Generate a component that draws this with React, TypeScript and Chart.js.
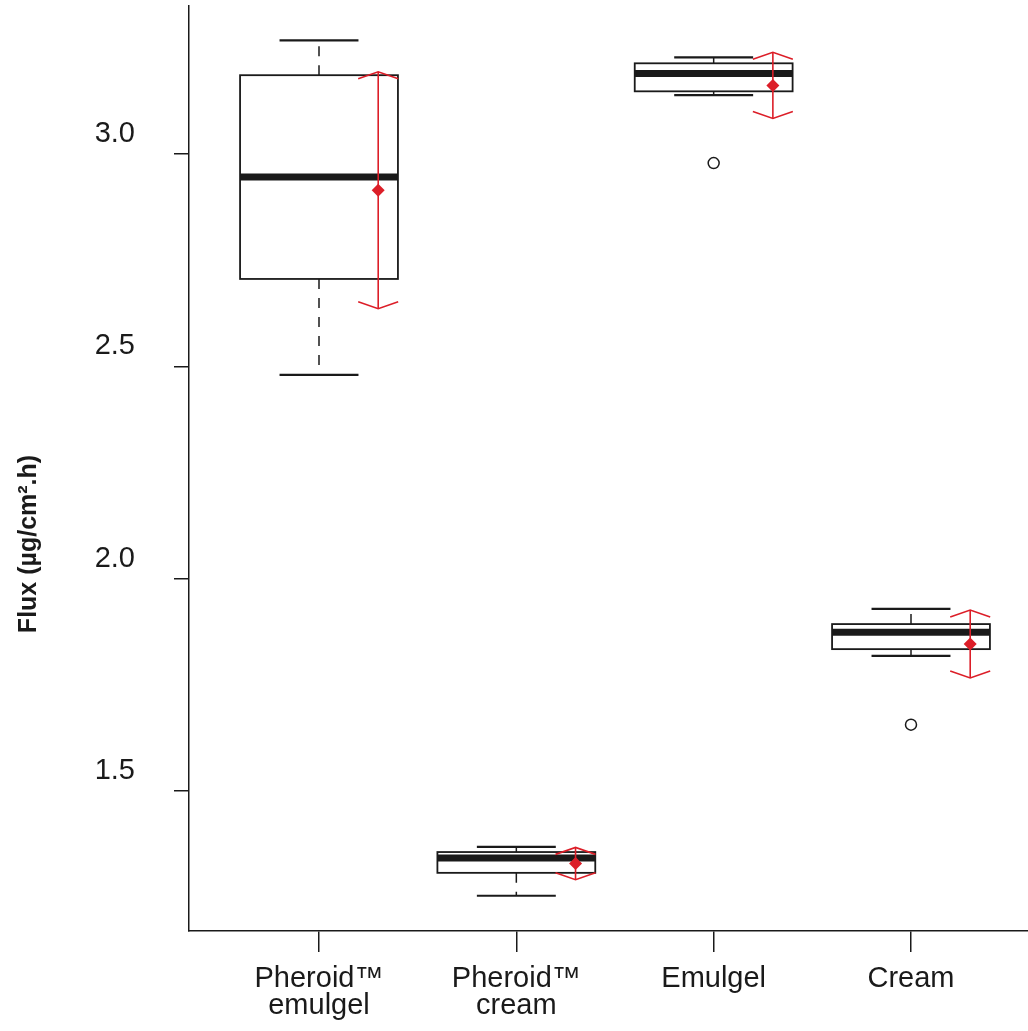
import React, { useEffect, useRef } from "react";
import { Chart, registerables } from "chart.js";

Chart.register(...registerables);

// ---- data ----
const categories: string[][] = [
  ["Pheroid™", "emulgel"],
  ["Pheroid™", "cream"],
  ["Emulgel"],
  ["Cream"],
];
const whiskerLow = [2.48, 1.253, 3.139, 1.818];
const q1 = [2.706, 1.307, 3.148, 1.834];
const median = [2.946, 1.342, 3.19, 1.874];
const q3 = [3.186, 1.356, 3.214, 1.893];
const whiskerHigh = [3.268, 1.368, 3.228, 1.929];
const means = [2.915, 1.329, 3.162, 1.846];
const sds = [0.279, 0.038, 0.078, 0.08];
const outlierGroups = [3, 4];
const outlierValues = [2.979, 1.656];
const yTicks = [1.5, 2.0, 2.5, 3.0];
const yTitle = "Flux (µg/cm².h)";

// ---- style constants ----
const INK = "#1a1a1a";
const RED = "#dc1e28";
const FONT = '"Liberation Sans", Arial, Helvetica, sans-serif';
const BOX_HALF = 0.4;
const CAP_HALF = 0.2;
const MEAN_OFFSET = 0.3;

const boxPlugin = {
  id: "boxplotDraw",
  beforeDatasetsDraw(chart: any) {
    const { ctx } = chart;
    const xs = chart.scales.x;
    const ys = chart.scales.y;
    const px = (v: number) => xs.getPixelForValue(v);
    const py = (v: number) => ys.getPixelForValue(v);
    const seg = (x1: number, y1: number, x2: number, y2: number) => {
      ctx.beginPath();
      ctx.moveTo(x1, y1);
      ctx.lineTo(x2, y2);
      ctx.stroke();
    };
    ctx.save();
    ctx.strokeStyle = INK;
    ctx.lineCap = "butt";
    for (let i = 0; i < categories.length; i++) {
      const c = i + 1;
      const xc = px(c);
      const xl = px(c - BOX_HALF);
      const xr = px(c + BOX_HALF);
      const cl = px(c - CAP_HALF);
      const cr = px(c + CAP_HALF);
      ctx.lineWidth = 1.5;
      ctx.setLineDash([10, 9]);
      seg(xc, py(q3[i]), xc, py(whiskerHigh[i]));
      seg(xc, py(q1[i]), xc, py(whiskerLow[i]));
      ctx.setLineDash([]);
      ctx.lineWidth = 2.2;
      seg(cl, py(whiskerHigh[i]), cr, py(whiskerHigh[i]));
      seg(cl, py(whiskerLow[i]), cr, py(whiskerLow[i]));
      ctx.lineWidth = 1.8;
      ctx.strokeRect(xl, py(q3[i]), xr - xl, py(q1[i]) - py(q3[i]));
      ctx.lineWidth = 7;
      seg(xl, py(median[i]), xr, py(median[i]));
    }
    ctx.strokeStyle = RED;
    ctx.lineWidth = 1.6;
    for (let i = 0; i < categories.length; i++) {
      const xm = px(i + 1 + MEAN_OFFSET);
      const top = py(means[i] + sds[i]);
      const bot = py(means[i] - sds[i]);
      seg(xm, top, xm, bot);
      ctx.beginPath();
      ctx.moveTo(xm - 20, top + 7);
      ctx.lineTo(xm, top);
      ctx.lineTo(xm + 20, top + 7);
      ctx.stroke();
      ctx.beginPath();
      ctx.moveTo(xm - 20, bot - 7);
      ctx.lineTo(xm, bot);
      ctx.lineTo(xm + 20, bot - 7);
      ctx.stroke();
    }
    ctx.restore();
  },
  afterDraw(chart: any) {
    const { ctx } = chart;
    ctx.save();
    ctx.translate(29, 544);
    ctx.rotate(-Math.PI / 2);
    ctx.font = `bold 25px ${FONT}`;
    ctx.fillStyle = INK;
    ctx.textAlign = "center";
    ctx.textBaseline = "middle";
    ctx.fillText(yTitle, 0, 0);
    ctx.restore();
  },
};

export default function App() {
  const ref = useRef<HTMLCanvasElement>(null);
  useEffect(() => {
    document.body.style.margin = "0";
    const chart = new Chart(ref.current as HTMLCanvasElement, {
      type: "scatter",
      data: {
        datasets: [
          {
            label: "mean",
            data: means.map((m, i) => ({ x: i + 1 + MEAN_OFFSET, y: m })),
            pointStyle: "rectRot",
            pointRadius: 6.5,
            backgroundColor: RED,
            borderColor: RED,
            borderWidth: 0,
          },
          {
            label: "outliers",
            data: outlierValues.map((v, i) => ({ x: outlierGroups[i], y: v })),
            pointStyle: "circle",
            pointRadius: 5.5,
            backgroundColor: "rgba(0,0,0,0)",
            borderColor: INK,
            borderWidth: 1.5,
          },
        ],
      },
      options: {
        animation: false,
        responsive: false,
        layout: { autoPadding: false, padding: { top: 6, left: 0, right: 0, bottom: 0 } },
        plugins: {
          legend: { display: false },
          tooltip: { enabled: false },
        },
        scales: {
          x: {
            type: "linear",
            min: 0.3412,
            max: 4.5929,
            afterBuildTicks: (s: any) => {
              s.ticks = categories.map((_, i) => ({ value: i + 1 }));
            },
            afterFit: (s: any) => {
              s.height = 100;
              s.paddingLeft = 0;
              s.paddingRight = 0;
              s.paddingTop = 0;
              s.paddingBottom = 0;
            },
            ticks: {
              callback: (v: any) => categories[Math.round(Number(v)) - 1] ?? "",
              color: INK,
              font: { family: FONT, size: 29, lineHeight: 0.92 },
              padding: 14,
              maxRotation: 0,
              autoSkip: false,
            },
            grid: {
              drawOnChartArea: false,
              drawTicks: true,
              tickLength: 21,
              color: INK,
              lineWidth: 1.5,
            },
            border: { display: true, color: INK, width: 1.5 },
          },
          y: {
            type: "linear",
            min: 1.17,
            max: 3.349,
            afterBuildTicks: (s: any) => {
              s.ticks = yTicks.map((v) => ({ value: v }));
            },
            afterFit: (s: any) => {
              s.width = 189;
              s.paddingLeft = 0;
              s.paddingRight = 0;
              s.paddingTop = 0;
              s.paddingBottom = 0;
            },
            ticks: {
              callback: (v: any) => Number(v).toFixed(1),
              color: INK,
              font: { family: FONT, size: 29 },
              padding: 39,
              labelOffset: -20,
            },
            grid: {
              drawOnChartArea: false,
              drawTicks: true,
              tickLength: 15,
              color: INK,
              lineWidth: 1.5,
            },
            border: { display: true, color: INK, width: 1.5 },
          },
        },
      },
      plugins: [boxPlugin],
    });
    return () => chart.destroy();
  }, []);
  return (
    <div style={{ width: 1028, height: 1031, background: "#fff" }}>
      <canvas ref={ref} width={1028} height={1031} style={{ display: "block" }} />
    </div>
  );
}
